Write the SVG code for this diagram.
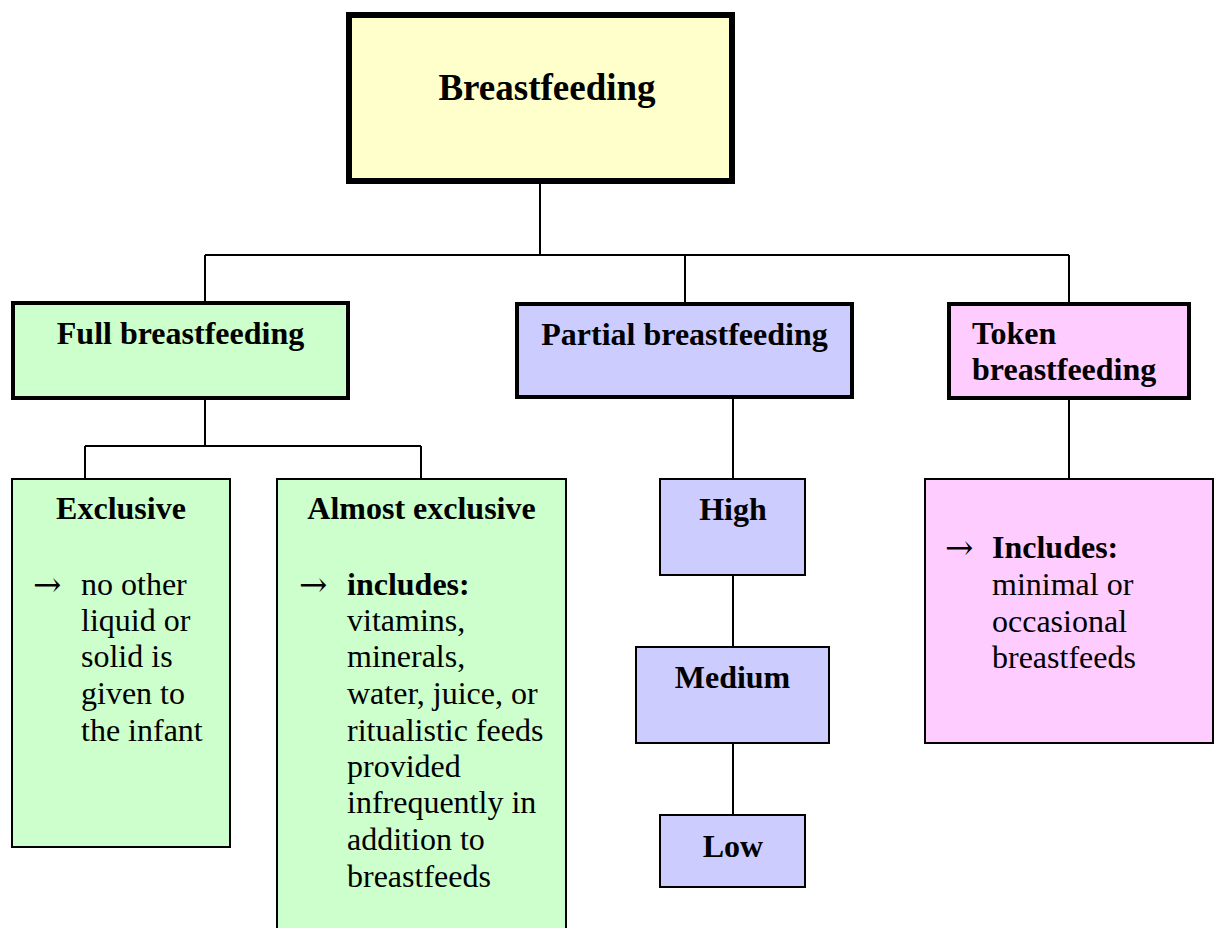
<svg xmlns="http://www.w3.org/2000/svg" width="1217" height="928" viewBox="0 0 1217 928">
  <style>
    text { font-family: "Liberation Serif", "Times New Roman", serif; fill: #000; }
    .title { font-size: 37px; font-weight: bold; text-anchor: middle; }
    .head { font-size: 32px; font-weight: bold; text-anchor: middle; }
    .headL { font-size: 32px; font-weight: bold; }
    .body { font-size: 32px; }
    .bold { font-weight: bold; }
    .arr { font-family: "DejaVu Serif", serif; font-size: 34px; }
    .box { stroke: #000; }
    .yellow { fill: #FFFFCC; }
    .green { fill: #CCFFCC; }
    .blue { fill: #CCCCFF; }
    .pink { fill: #FFCCFF; }
    .thick { stroke-width: 6; }
    .mid { stroke-width: 4; }
    .thin { stroke-width: 2; }
    #connectors path { fill: none; stroke: #000; stroke-width: 2; }
  </style>

  <g id="connectors">
    <path d="M540 184 V255 M205 255 H1069 M205 255 V301 M685 255 V302 M1069 255 V302"/>
    <path d="M205 400 V446 M85 446 H421 M85 446 V479 M421 446 V479"/>
    <path d="M733 399 V479 M733 575 V647 M733 743 V815"/>
    <path d="M1069 400 V479"/>
  </g>

  <g id="breastfeeding">
    <rect class="box yellow thick" x="349" y="15" width="383" height="166"/>
    <text class="title" x="547" y="100">Breastfeeding</text>
  </g>

  <g id="full">
    <rect class="box green mid" x="13" y="303" width="335" height="95"/>
    <text class="head" x="180.5" y="344">Full breastfeeding</text>
  </g>

  <g id="partial">
    <rect class="box blue mid" x="517" y="304" width="335" height="93"/>
    <text class="head" x="684.5" y="345">Partial breastfeeding</text>
  </g>

  <g id="token">
    <rect class="box pink mid" x="949" y="304" width="240" height="94"/>
    <text class="headL" x="972" y="344">Token</text>
    <text class="headL" x="972" y="380">breastfeeding</text>
  </g>

  <g id="exclusive">
    <rect class="box green thin" x="12" y="479" width="218" height="368"/>
    <text class="head" x="121" y="519">Exclusive</text>
    <text class="arr" x="33" y="596">→</text>
    <text class="body" x="81" y="595">no other</text>
    <text class="body" x="81" y="631">liquid or</text>
    <text class="body" x="81" y="667">solid is</text>
    <text class="body" x="81" y="704">given to</text>
    <text class="body" x="81" y="741">the infant</text>
  </g>

  <g id="almost-exclusive">
    <rect class="box green thin" x="277" y="479" width="289" height="470"/>
    <text class="head" x="421.5" y="519">Almost exclusive</text>
    <text class="arr" x="299" y="596">→</text>
    <text class="body bold" x="347" y="595">includes:</text>
    <text class="body" x="347" y="631">vitamins,</text>
    <text class="body" x="347" y="667">minerals,</text>
    <text class="body" x="347" y="704">water, juice, or</text>
    <text class="body" x="347" y="741">ritualistic feeds</text>
    <text class="body" x="347" y="777">provided</text>
    <text class="body" x="347" y="813">infrequently in</text>
    <text class="body" x="347" y="850">addition to</text>
    <text class="body" x="347" y="887">breastfeeds</text>
  </g>

  <g id="high">
    <rect class="box blue thin" x="660" y="479" width="145" height="96"/>
    <text class="head" x="733" y="520">High</text>
  </g>

  <g id="medium">
    <rect class="box blue thin" x="636" y="647" width="193" height="96"/>
    <text class="head" x="732.5" y="688">Medium</text>
  </g>

  <g id="low">
    <rect class="box blue thin" x="660" y="815" width="145" height="72"/>
    <text class="head" x="733" y="857">Low</text>
  </g>

  <g id="token-detail">
    <rect class="box pink thin" x="925" y="479" width="288" height="264"/>
    <text class="arr" x="945" y="559">→</text>
    <text class="body bold" x="992" y="558">Includes:</text>
    <text class="body" x="992" y="595">minimal or</text>
    <text class="body" x="992" y="632">occasional</text>
    <text class="body" x="992" y="668">breastfeeds</text>
  </g>
</svg>
